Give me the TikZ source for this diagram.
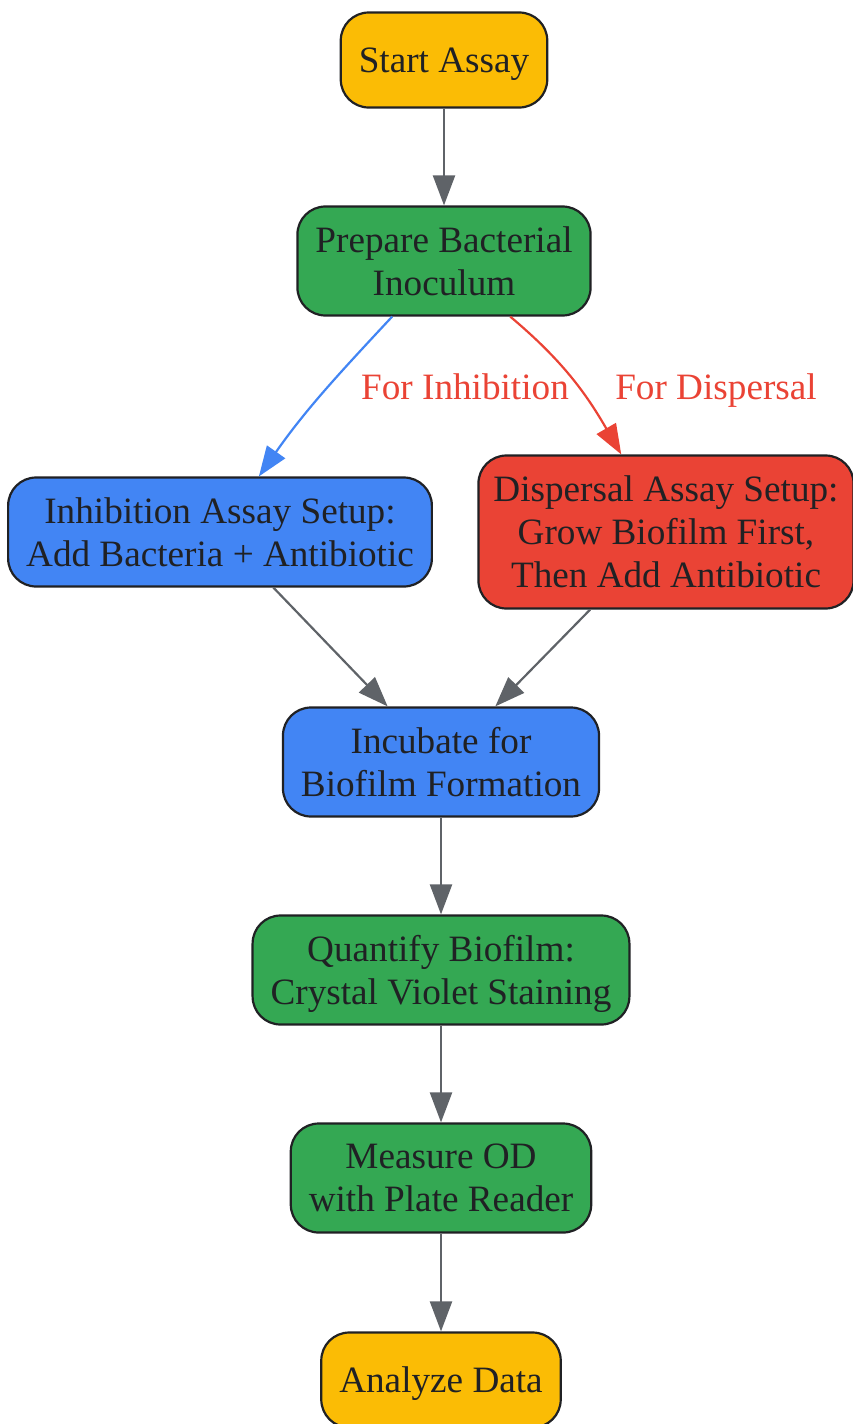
\documentclass[tikz,border=0pt]{standalone}
\usepackage{fontspec}
\setmainfont{Liberation Serif}
\usetikzlibrary{arrows.meta}
\definecolor{gyellow}{HTML}{FBBC05}
\definecolor{ggreen}{HTML}{34A853}
\definecolor{gblue}{HTML}{4285F4}
\definecolor{gred}{HTML}{EA4335}
\definecolor{ggray}{HTML}{5F6368}
\definecolor{gdark}{HTML}{202124}

\begin{document}
\begin{tikzpicture}[
  box/.style={draw=gdark, line width=1.1pt, rounded corners=14pt, align=center,
    text=gdark, inner xsep=9pt, inner ysep=3pt, minimum height=54.5pt, text depth=-4pt,
    font=\fontsize{18.6pt}{21.5pt}\selectfont},
  single/.style={minimum height=47.5pt, text depth=0pt},
  flow/.style={draw=ggray, line width=1.1pt, -{Triangle[length=15pt,width=11pt]}},
  lbl/.style={text=gred, anchor=base, font=\fontsize{18.6pt}{21.5pt}\selectfont}
]
\useasboundingbox (0pt,0pt) rectangle (426pt,-712pt);
\node[box, fill=gyellow, single] (start) at (222pt,-30pt) {Start Assay};
\node[box, fill=ggreen] (prep) at (222pt,-130.5pt) {Prepare Bacterial\\Inoculum};
\node[box, fill=gblue] (inhib) at (110pt,-266pt) {Inhibition Assay Setup:\\Add Bacteria + Antibiotic};
\node[box, fill=gred, minimum height=76.5pt, inner xsep=7.5pt] (disp) at (333pt,-266pt) {Dispersal Assay Setup:\\Grow Biofilm First,\\Then Add Antibiotic};
\node[box, fill=gblue] (incub) at (220.5pt,-381pt) {Incubate for\\Biofilm Formation};
\node[box, fill=ggreen] (quant) at (220.5pt,-485pt) {Quantify Biofilm:\\Crystal Violet Staining};
\node[box, fill=ggreen] (meas) at (220.5pt,-589pt) {Measure OD\\with Plate Reader};
\node[box, fill=gyellow, single] (anal) at (220.5pt,-690pt) {Analyze Data};
\node[lbl] (linhib) at (232.5pt,-199.7pt) {For Inhibition};
\node[lbl] (ldisp) at (358pt,-199.7pt) {For Dispersal};
\draw[flow] (start) -- (prep);
\draw[flow, draw=gblue] (prep) to[out=-133,in=55] (inhib);
\draw[flow, draw=gred] (prep) to[out=-40,in=120] (disp);
\draw[flow] (inhib) -- (incub);
\draw[flow] (disp) -- (incub);
\draw[flow] (incub) -- (quant);
\draw[flow] (quant) -- (meas);
\draw[flow] (meas) -- (anal);
\end{tikzpicture}
\end{document}
